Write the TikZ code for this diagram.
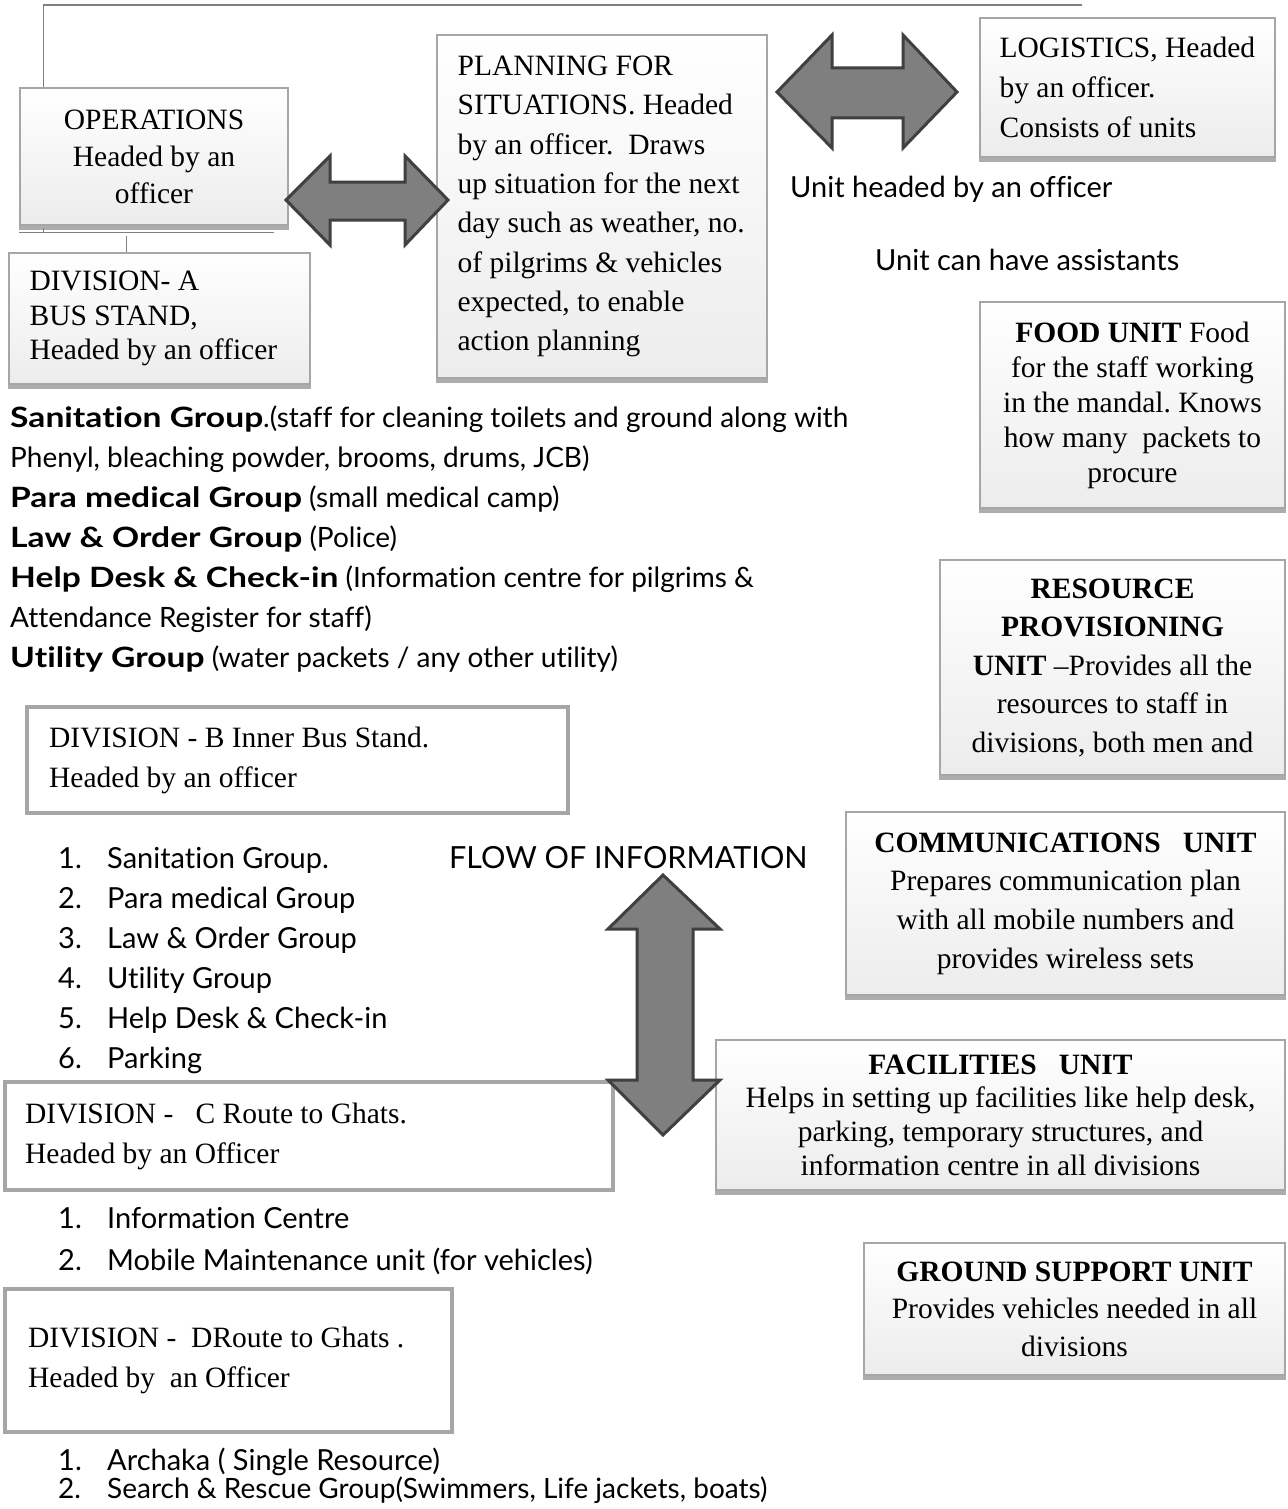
\documentclass[tikz,border=0pt]{standalone}
\usepackage{fontspec}
\setmainfont{Liberation Serif}
\newfontfamily\gill[Ligatures=NoCommon, BoldFeatures={FakeStretch=1.2}]{Lato}
\definecolor{boxline}{HTML}{A6A6A6}
\definecolor{boxbot}{HTML}{ECECEC}
\definecolor{shad}{HTML}{ADADAD}
\definecolor{arrowfill}{HTML}{7F7F7F}
\definecolor{arrowline}{HTML}{404040}
\definecolor{conn}{HTML}{808080}
\newcommand{\shadowstrip}[1]{\fill[shad] ([yshift=-0.6pt]#1.south west) rectangle ([yshift=-4pt]#1.south east);}
\newcommand{\itm}[2]{\makebox[49pt][l]{#1}#2}
\frenchspacing
\begin{document}
\begin{tikzpicture}[x=1pt,y=-1pt,
  gbox/.style={draw=boxline, line width=1.2pt, top color=white, bottom color=boxbot,
     inner sep=0pt, align=center, font=\fontsize{29.5}{#1}\selectfont},
  gbox/.default=38,
  dbox/.style={draw=boxline, line width=4pt, fill=white, inner sep=0pt},
  btext/.style={anchor=west, inner sep=0pt, align=left, font=\fontsize{29.5}{#1}\selectfont},
  btext/.default=40,
  stext/.style={anchor=base west, inner sep=0pt, font=\gill\fontsize{29}{34}\selectfont},
  ltext/.style={anchor=base west, inner sep=0pt, font=\gill\fontsize{28}{34}\selectfont},
  blockarrow/.style={fill=arrowfill, draw=arrowline, line width=3pt, line join=miter},
  conn/.style={draw=conn, line width=1.6pt}
]
\useasboundingbox (0,0) rectangle (1287,1509);
\fill[white] (0,0) rectangle (1287,1509);

% ---------- top boxes ----------
\node[gbox=37, minimum width=268, minimum height=137] (ops) at (154,156.5)
  {OPERATIONS\\Headed by an\\officer};
\shadowstrip{ops}

\node[gbox, minimum width=301, minimum height=131] (divA) at (159.5,318.5) {};
\shadowstrip{divA}
\node[btext=34.5] (divAt) at ([xshift=21pt]divA.west)
  {DIVISION- A\\BUS STAND,\\Headed by an officer};

\node[gbox, minimum width=330, minimum height=343] (plan) at (602,206.5) {};
\shadowstrip{plan}
\node[btext=39.3] (plant) at ([xshift=21pt]plan.west)
  {PLANNING FOR\\SITUATIONS. Headed\\by an officer.\ \ Draws\\up situation for the next\\day such as weather, no.\\of pilgrims \& vehicles\\expected, to enable\\action planning};

\node[gbox, minimum width=295, minimum height=139] (log) at (1127.5,87.5) {};
\shadowstrip{log}
\node[btext=40] (logt) at ([xshift=20pt]log.west)
  {LOGISTICS, Headed\\by an officer.\\Consists of units};

% ---------- right column units ----------
\node[gbox=35, minimum width=305, minimum height=206] (food) at (1132.5,405)
  {\textbf{FOOD UNIT} Food\\for the staff working\\in the mandal. Knows\\how many\ \ packets to\\procure};
\shadowstrip{food}

\node[gbox=38.5, minimum width=345, minimum height=215] (res) at (1112.5,667.5)
  {\textbf{RESOURCE}\\\textbf{PROVISIONING}\\\textbf{UNIT} –Provides all the\\resources to staff in\\divisions, both men and};
\shadowstrip{res}

\node[gbox=38.7, minimum width=439, minimum height=183] (comm) at (1065.5,903.5)
  {\textbf{COMMUNICATIONS\ \ \ UNIT}\\Prepares communication plan\\with all mobile numbers and\\provides wireless sets};
\shadowstrip{comm}

\node[gbox=33.7, minimum width=569, minimum height=150] (fac) at (1000.5,1115)
  {\textbf{FACILITIES\ \ \ UNIT}\\Helps in setting up facilities like help desk,\\parking, temporary structures, and\\information centre in all divisions};
\shadowstrip{fac}

\node[gbox=37.5, minimum width=421, minimum height=132] (grd) at (1074.5,1309)
  {\textbf{GROUND SUPPORT UNIT}\\Provides vehicles needed in all\\divisions};
\shadowstrip{grd}

% ---------- free texts ----------
\node[stext] (uh) at (790,197) {Unit headed by an officer};
\node[stext] (ua) at (875,270) {Unit can have assistants};

\node[ltext] (a1) at (10,427) {\textbf{Sanitation Group}.(staff for cleaning toilets and ground along with};
\node[ltext] (a2) at (10,467) {Phenyl, bleaching powder, brooms, drums, JCB)};
\node[ltext] (a3) at (10,507) {\textbf{Para medical Group} (small medical camp)};
\node[ltext] (a4) at (10,547) {\textbf{Law \& Order Group} (Police)};
\node[ltext] (a5) at (10,587) {\textbf{Help Desk \& Check-in} (Information centre for pilgrims \&};
\node[ltext] (a6) at (10,627) {Attendance Register for staff)};
\node[ltext] (a7) at (10,667) {\textbf{Utility Group} (water packets / any other utility)};

% ---------- division boxes ----------
\node[dbox, minimum width=541, minimum height=106] (divB) at (297.5,760) {};
\node[btext=40] (divBt) at ([xshift=24pt]divB.west)
  {DIVISION - B Inner Bus Stand.\\Headed by an officer};

\node[stext] (b1) at (58,868) {\itm{1.}{Sanitation Group.}};
\node[stext] (b2) at (58,908) {\itm{2.}{Para medical Group}};
\node[stext] (b3) at (58,948) {\itm{3.}{Law \& Order Group}};
\node[stext] (b4) at (58,988) {\itm{4.}{Utility Group}};
\node[stext] (b5) at (58,1028) {\itm{5.}{Help Desk \& Check-in}};
\node[stext] (b6) at (58,1068) {\itm{6.}{Parking}};
\node[stext, font=\gill\fontsize{30.5}{34}\selectfont] (flow) at (449,868) {FLOW OF INFORMATION};

\node[dbox, minimum width=608, minimum height=108] (divC) at (309,1136) {};
\node[btext=40] (divCt) at ([xshift=22pt]divC.west)
  {DIVISION -\ \ \ C Route to Ghats.\\Headed by an Officer};

\node[stext] (c1) at (58,1228) {\itm{1.}{Information Centre}};
\node[stext] (c2) at (58,1270) {\itm{2.}{Mobile Maintenance unit (for vehicles)}};

\node[dbox, minimum width=447, minimum height=143] (divD) at (228.5,1360.5) {};
\node[btext=40] (divDt) at ([xshift=25pt]divD.west)
  {DIVISION -\ \ DRoute to Ghats .\\Headed by\ \ an Officer};

\node[stext] (d1) at (58,1470) {\itm{1.}{Archaka ( Single Resource)}};
\node[stext, font=\gill\fontsize{28}{34}\selectfont] (d2) at (58,1498) {\itm{2.}{Search \& Rescue Group(Swimmers, Life jackets, boats)}};

% ---------- connectors ----------
\coordinate (topend) at (1082,5);
\draw[conn] ([xshift=24pt]ops.north west) |- (topend);
\draw[conn] ([yshift=-7pt]ops.south west) -- ([xshift=-15pt,yshift=-7pt]ops.south east);
\draw[conn] ([xshift=24pt,yshift=-2pt]ops.south west) -- ([xshift=24pt,yshift=-7pt]ops.south west);
\draw[conn] ([xshift=107pt,yshift=-10pt]ops.south west) -- ([xshift=118pt]divA.north west);

% ---------- block arrows ----------
\draw[blockarrow] (286,200) -- (330,156) -- (330,182) -- (405,182) -- (405,156) -- (448,200)
  -- (405,245) -- (405,220) -- (330,220) -- (330,245) -- cycle;
\draw[blockarrow] (777,92) -- (832,35) -- (832,68) -- (903,68) -- (903,35) -- (957,92)
  -- (903,148) -- (903,118) -- (832,118) -- (832,148) -- cycle;
\draw[blockarrow] (663,875) -- (720,929) -- (693,929) -- (693,1080) -- (720,1080) -- (663,1135)
  -- (608,1080) -- (637,1080) -- (637,929) -- (608,929) -- cycle;
\end{tikzpicture}
\end{document}
